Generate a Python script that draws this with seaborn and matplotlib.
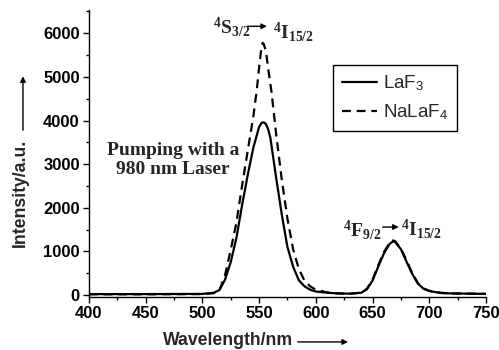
import numpy as np
import pandas as pd
import matplotlib
matplotlib.use("Agg")
import matplotlib.pyplot as plt
from matplotlib.ticker import MultipleLocator
import seaborn as sns

# ---------------- data ----------------
wl_laf3 = [400, 450, 500, 510, 515, 520, 525, 530, 535, 540, 545, 550, 552, 554,
           556, 558, 560, 565, 570, 575, 580, 585, 590, 595, 600, 610, 620, 630,
           640, 645, 650, 655, 660, 665, 668, 670, 675, 680, 685, 690, 695, 700,
           710, 720, 750]
int_laf3 = [20, 20, 25, 50, 110, 350, 750, 1300, 2050, 2750, 3380, 3850, 3940, 3960,
            3920, 3800, 3600, 2700, 1850, 1100, 650, 340, 200, 120, 80, 50, 35, 30,
            50, 130, 330, 650, 950, 1170, 1230, 1210, 1050, 760, 480, 260, 140, 90,
            45, 35, 25]

wl_nalaf4 = [400, 450, 500, 510, 515, 520, 525, 530, 535, 540, 545, 548, 550, 552,
             553, 554, 556, 558, 561, 565, 570, 575, 580, 585, 590, 595, 600, 610,
             620, 630, 640, 645, 650, 655, 660, 665, 668, 670, 675, 680, 685, 690,
             695, 700, 710, 720, 750]
int_nalaf4 = [15, 15, 20, 40, 100, 450, 1030, 1650, 2500, 3300, 4100, 4700, 5200, 5650,
              5780, 5760, 5600, 5200, 4650, 3700, 2650, 1750, 1050, 600, 330, 200, 120, 60,
              35, 30, 50, 140, 350, 680, 980, 1200, 1250, 1230, 1060, 790, 500, 270,
              150, 95, 50, 35, 25]

series_names = ["LaF$_\\mathsf{3}$", "NaLaF$_\\mathsf{4}$"]
x_ticks = [400, 450, 500, 550, 600, 650, 700, 750]
y_ticks = [0, 1000, 2000, 3000, 4000, 5000, 6000]

df = pd.concat([
    pd.DataFrame({"wl": wl_laf3, "I": int_laf3, "sample": series_names[0]}),
    pd.DataFrame({"wl": wl_nalaf4, "I": int_nalaf4, "sample": series_names[1]}),
], ignore_index=True)

# ---------------- style ----------------
sns.set_style("ticks")
plt.rcParams.update({
    "font.family": ["Liberation Sans", "DejaVu Sans"],
    "mathtext.fontset": "custom",
    "mathtext.rm": "Liberation Serif",
    "mathtext.it": "Liberation Serif:italic",
    "mathtext.bf": "Liberation Serif:bold",
    "mathtext.sf": "Liberation Sans",
    "axes.edgecolor": "black",
    "axes.linewidth": 1.0,
    "xtick.color": "black",
    "ytick.color": "black",
})

fig = plt.figure(figsize=(4.99, 3.5), dpi=100)
ax = fig.add_axes([0.178, 0.151, 0.796, 0.82])

sns.lineplot(data=df, x="wl", y="I", hue="sample", style="sample",
             palette=["black", "black"],
             dashes={series_names[0]: "", series_names[1]: (4, 2.6)},
             linewidth=1.6, sort=False, estimator=None, ax=ax, legend=True)

ax.set_xlim(400, 750)
ax.set_ylim(-50, 6530)
ax.set_xticks(x_ticks)
ax.set_yticks(y_ticks)
ax.xaxis.set_minor_locator(MultipleLocator(25))
ax.yaxis.set_minor_locator(MultipleLocator(500))
ax.tick_params(which="major", direction="out", length=4.5, width=1.0, pad=2)
ax.tick_params(which="minor", direction="out", length=2.2, width=1.0)
for lab in ax.get_xticklabels() + ax.get_yticklabels():
    lab.set_fontweight("bold")
    lab.set_fontsize(12)
ax.set_xlabel("")
ax.set_ylabel("")
sns.despine(ax=ax)

# legend
handles, labels = ax.get_legend_handles_labels()
leg = ax.legend(handles, labels, loc="upper left", bbox_to_anchor=(0.615, 0.808),
                borderaxespad=0, frameon=True, fancybox=False, edgecolor="black",
                framealpha=1, fontsize=13.5, handlelength=1.9, handletextpad=0.3,
                borderpad=0.45, labelspacing=0.5)
leg.get_frame().set_linewidth(1.0)

# transition labels
ax.text(509, 6000, r"$\mathbf{{}^{4}S_{3/2}}$", fontsize=14, ha="left", va="baseline")
ax.text(562, 5885, r"$\mathbf{{}^{4}I_{15/2}}$", fontsize=14, ha="left", va="baseline")
ax.annotate("", xy=(557, 6160), xytext=(540, 6160),
            arrowprops=dict(arrowstyle="-|>", color="black", lw=1.0, mutation_scale=8,
                            shrinkA=0, shrinkB=0))

ax.text(624, 1350, r"$\mathbf{{}^{4}F_{9/2}}$", fontsize=14, ha="left", va="baseline")
ax.text(675, 1374, r"$\mathbf{{}^{4}I_{15/2}}$", fontsize=14, ha="left", va="baseline")
ax.annotate("", xy=(673, 1557), xytext=(659, 1557),
            arrowprops=dict(arrowstyle="-|>", color="black", lw=1.0, mutation_scale=8,
                            shrinkA=0, shrinkB=0))

ax.text(474, 3090, "Pumping with a\n980 nm Laser", family="Liberation Serif",
        fontweight="bold", fontsize=14, ha="center", va="center", linespacing=1.2)

# axis labels with arrows
fig.text(0.04, 0.448, "Intensity/a.u.", rotation=90, fontsize=12.7, fontweight="bold",
         ha="center", va="center")
fig.add_artist(matplotlib.patches.FancyArrowPatch(
    (0.046, 0.62), (0.046, 0.79), transform=fig.transFigure,
    arrowstyle="-|>", mutation_scale=8, color="black", lw=1.0))
fig.text(0.457, 0.027, "Wavelength/nm", fontsize=12.7, fontweight="bold",
         ha="center", va="center")
fig.add_artist(matplotlib.patches.FancyArrowPatch(
    (0.591, 0.023), (0.703, 0.023), transform=fig.transFigure,
    arrowstyle="-|>", mutation_scale=8, color="black", lw=1.0))

fig.savefig("out.png", dpi=100)
